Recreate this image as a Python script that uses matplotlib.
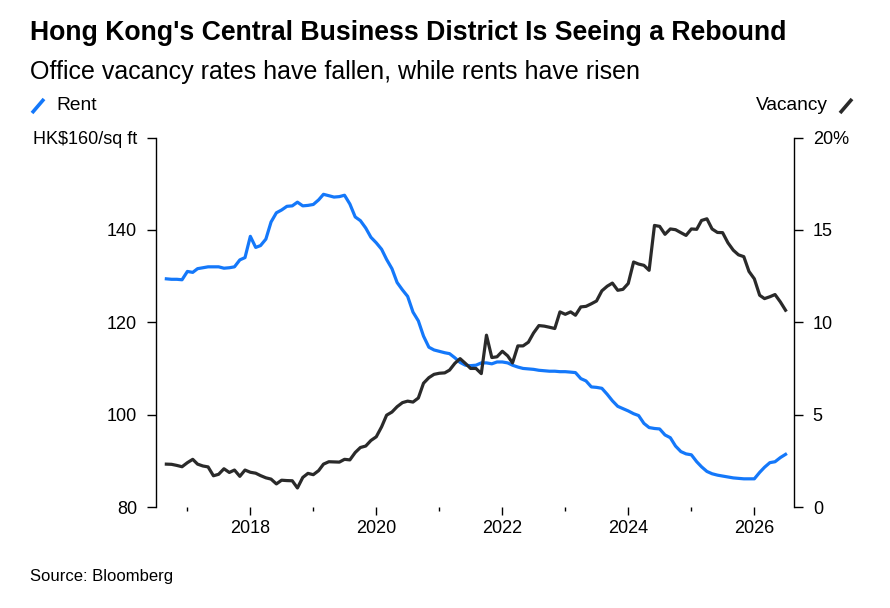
import matplotlib.pyplot as plt
import matplotlib.dates as mdates
from matplotlib.lines import Line2D
import pandas as pd

plt.rcParams['font.family'] = ['Liberation Sans', 'DejaVu Sans']

# monthly, Sep 2016 - Jul 2026
dates = pd.date_range("2016-09-01", periods=119, freq="MS")

rent = [
    129.4, 129.3, 129.3, 129.2, 131.0, 130.8, 131.6, 131.8, 132.0, 132.0,
    132.0, 131.7, 131.8, 132.0, 133.5, 134.0, 138.6, 136.2, 136.6, 138.0,
    141.7, 143.7, 144.3, 145.1, 145.2, 146.0, 145.2, 145.3, 145.5, 146.5,
    147.7, 147.4, 147.1, 147.2, 147.5, 145.6, 142.8, 142.0, 140.4, 138.4,
    137.2, 135.8, 133.6, 131.6, 128.6, 127.0, 125.6, 122.2, 120.3, 117.0,
    114.6, 114.0, 113.7, 113.4, 113.2, 112.3, 111.3, 110.7, 110.6, 110.7,
    111.2, 111.2, 111.0, 111.4, 111.4, 111.2, 110.7, 110.3, 110.0, 109.9,
    109.8, 109.6, 109.5, 109.4, 109.4, 109.3, 109.3, 109.2, 109.1, 107.8,
    107.3, 106.0, 105.9, 105.7, 104.4, 103.0, 101.8, 101.3, 100.8, 100.2,
    99.8, 98.1, 97.2, 97.0, 96.9, 95.6, 95.0, 93.2, 92.0, 91.5,
    91.3, 89.8, 88.7, 87.7, 87.2, 86.9, 86.7, 86.5, 86.3, 86.2,
    86.1, 86.1, 86.1, 87.5, 88.6, 89.6, 89.8, 90.7, 91.4,
]

vacancy = [
    2.32, 2.31, 2.25, 2.18, 2.40, 2.58, 2.32, 2.22, 2.17, 1.69,
    1.77, 2.07, 1.87, 2.00, 1.66, 2.00, 1.88, 1.83, 1.70, 1.58,
    1.51, 1.25, 1.45, 1.43, 1.42, 1.03, 1.60, 1.82, 1.75, 1.97,
    2.32, 2.45, 2.44, 2.43, 2.58, 2.55, 2.95, 3.22, 3.30, 3.60,
    3.80, 4.34, 4.97, 5.14, 5.43, 5.65, 5.73, 5.68, 5.90, 6.70,
    7.00, 7.18, 7.24, 7.26, 7.41, 7.78, 8.03, 7.77, 7.50, 7.50,
    7.22, 9.30, 8.09, 8.13, 8.43, 8.18, 7.80, 8.72, 8.72, 8.92,
    9.42, 9.82, 9.79, 9.73, 9.66, 10.56, 10.43, 10.56, 10.38, 10.83,
    10.86, 11.00, 11.15, 11.70, 11.95, 12.12, 11.73, 11.78, 12.10, 13.26,
    13.15, 13.08, 12.81, 15.24, 15.19, 14.76, 15.05, 15.01, 14.85, 14.70,
    15.05, 15.03, 15.51, 15.60, 15.05, 14.86, 14.85, 14.30, 13.90, 13.65,
    13.55, 12.75, 12.35, 11.46, 11.28, 11.38, 11.50, 11.10, 10.65,
]

rent_ticks = [80, 100, 120, 140, 160]
rent_labels = ["80", "100", "120", "140", "HK$160/sq ft"]
vac_ticks = [0, 5, 10, 15, 20]
vac_labels = ["0", "5", "10", "15", "20%"]

blue = "#1478fa"
dark = "#2a2a2a"

fig = plt.figure(figsize=(8.9, 6.08), dpi=100)
ax = fig.add_axes([156 / 890, 1 - 507 / 608, (794 - 156) / 890, (507 - 137.5) / 608])
ax2 = ax.twinx()

ax.plot(dates, rent, color=blue, lw=2.3, solid_joinstyle="round")
ax2.plot(dates, vacancy, color=dark, lw=2.3, solid_joinstyle="round")

ax.set_xlim(pd.Timestamp("2016-07-03"), pd.Timestamp("2026-08-19"))
ax.set_ylim(80, 160)
ax2.set_ylim(0, 20)

ax.set_yticks(rent_ticks)
ax.set_yticklabels(rent_labels)
ax2.set_yticks(vac_ticks)
ax2.set_yticklabels(vac_labels)

major = [pd.Timestamp(f"{y}-01-01") for y in range(2018, 2027, 2)]
minor = [pd.Timestamp(f"{y}-01-01") for y in range(2017, 2026, 2)]
ax.set_xticks(major)
ax.set_xticks(minor, minor=True)
ax.xaxis.set_major_formatter(mdates.DateFormatter("%Y"))

for a in (ax, ax2):
    a.spines["top"].set_visible(False)
    a.spines["bottom"].set_visible(False)
    a.spines["left"].set_linewidth(1)
    a.spines["right"].set_linewidth(1)
ax.spines["right"].set_visible(False)
ax2.spines["left"].set_visible(False)

ax.tick_params(axis="y", length=6.5, width=1, pad=7, labelsize=13)
ax2.tick_params(axis="y", length=6.5, width=1, pad=7, labelsize=13)
ax.tick_params(axis="x", which="major", length=5.8, width=1, pad=3.5, labelsize=13)
ax.tick_params(axis="x", which="minor", length=3, width=1)

fig.text(30 / 890, 1 - 33 / 608, "Hong Kong's Central Business District Is Seeing a Rebound",
         fontsize=19.2, fontweight="bold", va="center", ha="left")
fig.text(30 / 890, 1 - 72 / 608, "Office vacancy rates have fallen, while rents have risen",
         fontsize=18, va="center", ha="left")

# legend
fig.add_artist(Line2D([32 / 890, 44 / 890], [1 - 113 / 608, 1 - 99 / 608],
                      color=blue, lw=2.6, solid_capstyle="butt"))
fig.text(56 / 890, 1 - 106 / 608, "Rent", fontsize=13.8, va="center", ha="left")
fig.add_artist(Line2D([840 / 890, 852 / 890], [1 - 113 / 608, 1 - 99 / 608],
                      color=dark, lw=2.6, solid_capstyle="butt"))
fig.text(828 / 890, 1 - 106 / 608, "Vacancy", fontsize=13.8, va="center", ha="right")

fig.text(30 / 890, 1 - 577 / 608, "Source: Bloomberg", fontsize=12, va="center", ha="left")

fig.savefig("out.png", dpi=100)
